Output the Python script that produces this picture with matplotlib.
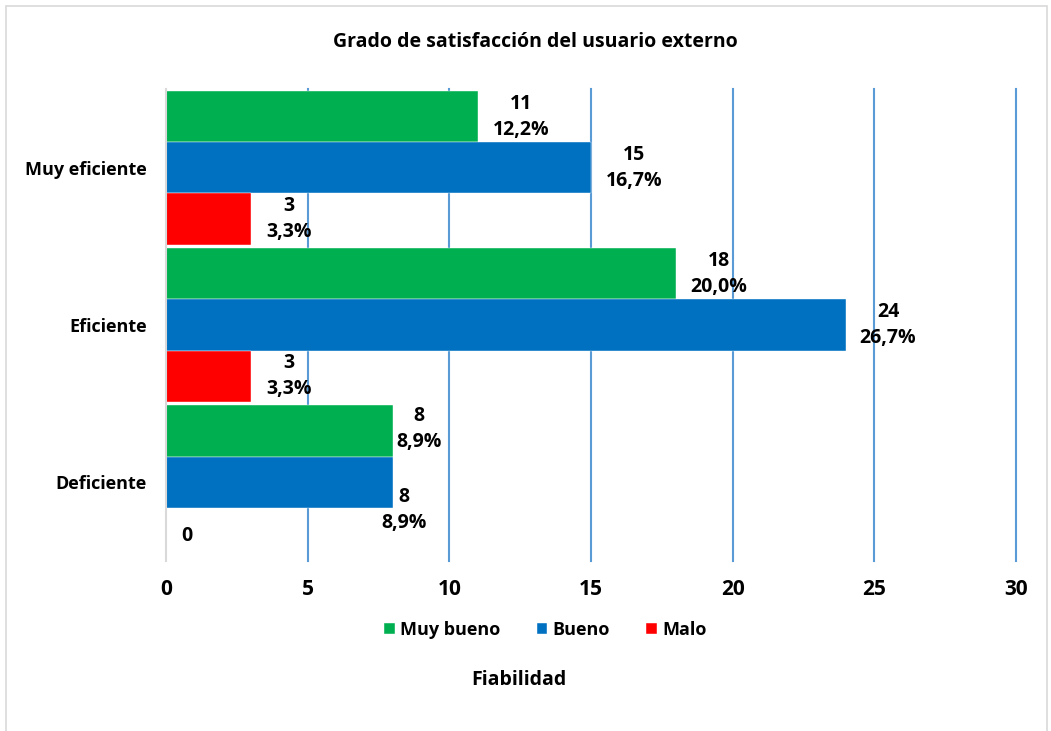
import numpy as np
import matplotlib.pyplot as plt
from matplotlib.patches import Rectangle

plt.rcParams['font.family'] = ['Open Sans', 'DejaVu Sans']
plt.rcParams['font.weight'] = 'bold'

categorias = ["Muy eficiente", "Eficiente", "Deficiente"]
series = ["Muy bueno", "Bueno", "Malo"]
muy_bueno = [11, 18, 8]
bueno = [15, 24, 8]
malo = [3, 3, 0]
pct_muy_bueno = ["12,2%", "20,0%", "8,9%"]
pct_bueno = ["16,7%", "26,7%", "8,9%"]
pct_malo = ["3,3%", "3,3%", ""]
colores = ["#00B050", "#0070C0", "#FF0000"]

# where each data label sits, in pixels from the end of its bar
label_dx = [[43, 43, 26], [43, 42, 11], [38, 38, 21]]
label_dy = [[0, 0, -2], [0, 0, 28], [0, 0, 3]]

fig = plt.figure(figsize=(10.51, 7.31), dpi=100)
ax = fig.add_axes([0.158, 0.2332, 0.8087, 0.6444])

y = np.arange(len(categorias))
h = 0.325
datos = [muy_bueno, bueno, malo]
pcts = [pct_muy_bueno, pct_bueno, pct_malo]
for i, (vals, pp, c, nom) in enumerate(zip(datos, pcts, colores, series)):
    pos = y + (i - 1) * h
    ax.barh(pos, vals, height=h, color=c, label=nom, zorder=3,
            edgecolor="white", linewidth=0.3)
    for j, (p, v, t) in enumerate(zip(pos, vals, pp)):
        txt = str(v) if t == "" else "{}\n{}".format(v, t)
        ax.annotate(txt, (v, p),
                    xytext=(label_dx[i][j] * 0.72, -label_dy[i][j] * 0.72),
                    textcoords="offset points",
                    ha="center", va="center", fontsize=14, fontweight="bold",
                    linespacing=1.4, zorder=4)

ax.set_xlim(0, 30)
ax.set_ylim(2.5, -0.5)
ax.set_xticks(range(0, 31, 5))
ax.set_yticks(y)
ax.set_yticklabels(categorias, fontsize=13, fontweight="bold")
ax.tick_params(axis="y", length=0, pad=14)
ax.tick_params(axis="x", length=0, pad=13, labelsize=15)
ax.grid(axis="x", color="#5B9BD5", linewidth=1.5, zorder=0)
for g in ax.xaxis.get_gridlines():
    g.set_clip_on(False)
ax.xaxis.get_gridlines()[0].set_visible(False)
for s in ["top", "right", "bottom"]:
    ax.spines[s].set_visible(False)
ax.spines["left"].set_color("#D9D9D9")
ax.spines["left"].set_linewidth(1.5)
ax.spines["left"].set_zorder(5)

fig.text(0.509, 0.9425, "Grado de satisfacción del usuario externo",
         ha="center", va="center", fontsize=14, fontweight="bold")
fig.text(0.494, 0.070, "Fiabilidad", ha="center", va="center",
         fontsize=14, fontweight="bold")
fig.legend(loc="center", bbox_to_anchor=(0.519, 0.138), ncol=3, frameon=False,
           fontsize=13, handlelength=0.6, handleheight=0.6, columnspacing=2.0,
           handletextpad=0.3)

fig.patches.append(Rectangle((6 / 1051, -0.01), 1041 / 1051, 1.01 - 6 / 731,
                             transform=fig.transFigure, fill=False,
                             edgecolor="#D9D9D9", linewidth=1.2))

fig.savefig("out.png", dpi=100)
